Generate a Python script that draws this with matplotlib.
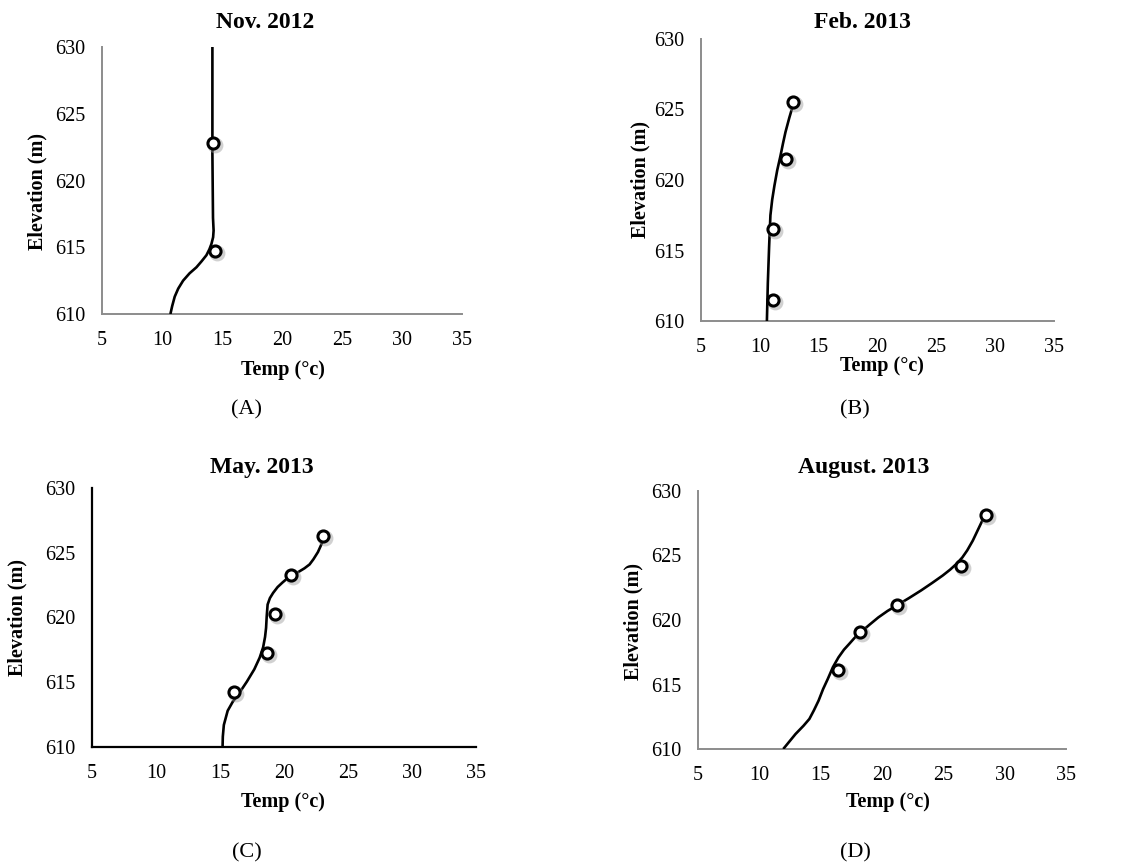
import matplotlib.pyplot as plt
import matplotlib.transforms as mtransforms
import numpy as np

plt.rcParams['font.family'] = ['Liberation Serif', 'DejaVu Serif']

# Nov. 2012 - measured points and smoothed profile
nov_pt_temp = [14.25, 14.4]
nov_pt_elev = [622.8, 614.75]
nov_line_temp = [10.7, 10.85, 11.06, 11.35, 11.76, 12.3, 12.87, 13.3, 13.7, 13.95, 14.12,
                 14.26, 14.3, 14.25, 14.2, 14.2]
nov_line_elev = [610.0, 610.6, 611.3, 611.9, 612.5, 613.05, 613.5, 613.95, 614.4, 614.85, 615.25,
                 615.75, 616.25, 617.2, 622.0, 630.0]

# Feb. 2013
feb_pt_temp = [11.15, 11.1, 12.25, 12.85]
feb_pt_elev = [611.5, 616.5, 621.5, 625.5]
feb_line_temp = [10.6, 10.68, 10.79, 10.9, 11.05, 11.24, 11.48, 11.75, 11.97, 12.18, 12.5, 12.85]
feb_line_elev = [610.0, 612.7, 615.3, 617.5, 618.6, 619.6, 620.7, 621.7, 622.6, 623.4, 624.4, 625.4]

# May. 2013
may_pt_temp = [16.1, 18.66, 19.27, 20.54, 23.05]
may_pt_elev = [614.23, 617.23, 620.26, 623.26, 626.3]
may_line_temp = [15.2, 15.22, 15.3, 15.6, 16.0, 16.46, 17.1, 17.68, 18.1, 18.37, 18.52, 18.6,
                 18.65, 18.72, 18.9, 19.15, 19.5, 19.88, 20.54, 21.1, 21.6, 22.0, 22.3,
                 22.65, 22.9, 23.05]
may_line_elev = [610.0, 610.8, 611.7, 612.8, 613.5, 614.1, 615.05, 616.0, 616.9, 617.7, 618.5, 619.2,
                 620.1, 621.0, 621.5, 621.9, 622.35, 622.7, 623.26, 623.5, 623.8, 624.1, 624.5,
                 625.05, 625.6, 626.0]

# August. 2013
aug_pt_temp = [16.45, 18.2, 21.2, 26.4, 28.45]
aug_pt_elev = [616.13, 619.1, 621.13, 624.15, 628.16]
aug_line_temp = [11.95, 12.95, 13.6, 14.08, 14.45, 14.83, 15.2, 15.58, 16.0, 16.45, 16.9, 17.33,
                 17.75, 18.2, 19.0, 19.7, 20.45, 21.2, 22.2, 23.2, 24.1, 24.95, 25.55, 26.08,
                 26.55, 26.95, 27.4, 27.8, 28.2, 28.58]
aug_line_elev = [610.0, 611.16, 611.8, 612.33, 613.0, 613.75, 614.65, 615.43, 616.35, 617.1, 617.7,
                 618.15, 618.6, 619.0, 619.65, 620.2, 620.7, 621.13, 621.7, 622.3, 622.88, 623.45,
                 623.9, 624.36, 624.85, 625.4, 626.15, 626.95, 627.75, 628.55]

x_ticks = [5, 10, 15, 20, 25, 30, 35]
y_ticks = [610, 615, 620, 625, 630]

W, H = 1129, 868
fig = plt.figure(figsize=(W / 100, H / 100), dpi=100)


def px_axes(x0, y0, x1, y1):
    return fig.add_axes([x0 / W, 1 - y1 / H, (x1 - x0) / W, (y1 - y0) / H])


panels = [
    # axes box, spine colour, title, title pos, xlabel pos, ylabel pos, caption, caption pos, data
    ((102, 47, 462, 314), '#8c8c8c', 'Nov. 2012', (265, 22), (283, 370), (37, 191), '(A)', (247, 410),
     nov_pt_temp, nov_pt_elev, nov_line_temp, nov_line_elev),
    ((701, 39, 1054, 321), '#8c8c8c', 'Feb. 2013', (862, 23), (882, 366), (640, 180), '(B)', (855, 410),
     feb_pt_temp, feb_pt_elev, feb_line_temp, feb_line_elev),
    ((92, 488, 476, 747), 'black', 'May. 2013', (262, 468), (283, 802), (17, 617), '(C)', (247, 853),
     may_pt_temp, may_pt_elev, may_line_temp, may_line_elev),
    ((698, 491, 1066, 749), '#8c8c8c', 'August. 2013', (864, 468), (888, 802), (633, 622), '(D)', (855, 853),
     aug_pt_temp, aug_pt_elev, aug_line_temp, aug_line_elev),
]

for box, spc, title, tpos, xlpos, ylpos, cap, cpos, pt_t, pt_e, ln_t, ln_e in panels:
    ax = px_axes(*box)
    ax.set_xlim(5, 35)
    ax.set_ylim(610, 630)
    ax.set_xticks(x_ticks)
    ax.set_yticks(y_ticks)
    for s in ['top', 'right']:
        ax.spines[s].set_visible(False)
    for s in ['left', 'bottom']:
        ax.spines[s].set_color(spc)
        ax.spines[s].set_linewidth(1.6 if spc == 'black' else 1.4)
    ax.tick_params(length=0, labelsize=14.5, colors='black')
    ax.tick_params(axis='x', pad=12)
    ax.tick_params(axis='y', pad=12)

    ax.plot(ln_t, ln_e, color='black', lw=1.9, solid_joinstyle='round', solid_capstyle='butt', zorder=3)
    # soft drop shadow under the markers
    shadow = mtransforms.offset_copy(ax.transData, fig=fig, x=2, y=-2, units='dots')
    ax.plot(pt_t, pt_e, 'o', ms=9, mfc='none', mec='#999999', mew=2.4, alpha=0.45,
            transform=shadow, zorder=3.5, clip_on=False)
    ax.plot(pt_t, pt_e, 'o', ms=8, mfc='white', mec='black', mew=2.2, zorder=4, clip_on=False)

    fig.text(tpos[0] / W, 1 - tpos[1] / H, title, fontsize=17, fontweight='bold',
             ha='center', va='center')
    fig.text(xlpos[0] / W, 1 - xlpos[1] / H, 'Temp (°c)', fontsize=14.5, fontweight='bold',
             ha='center', va='center')
    fig.text(ylpos[0] / W, 1 - ylpos[1] / H, 'Elevation (m)', fontsize=14.5, fontweight='bold',
             ha='center', va='center', rotation=90)
    fig.text(cpos[0] / W, 1 - cpos[1] / H, cap, fontsize=16, ha='center', va='center')

fig.savefig('out.png', dpi=100)
